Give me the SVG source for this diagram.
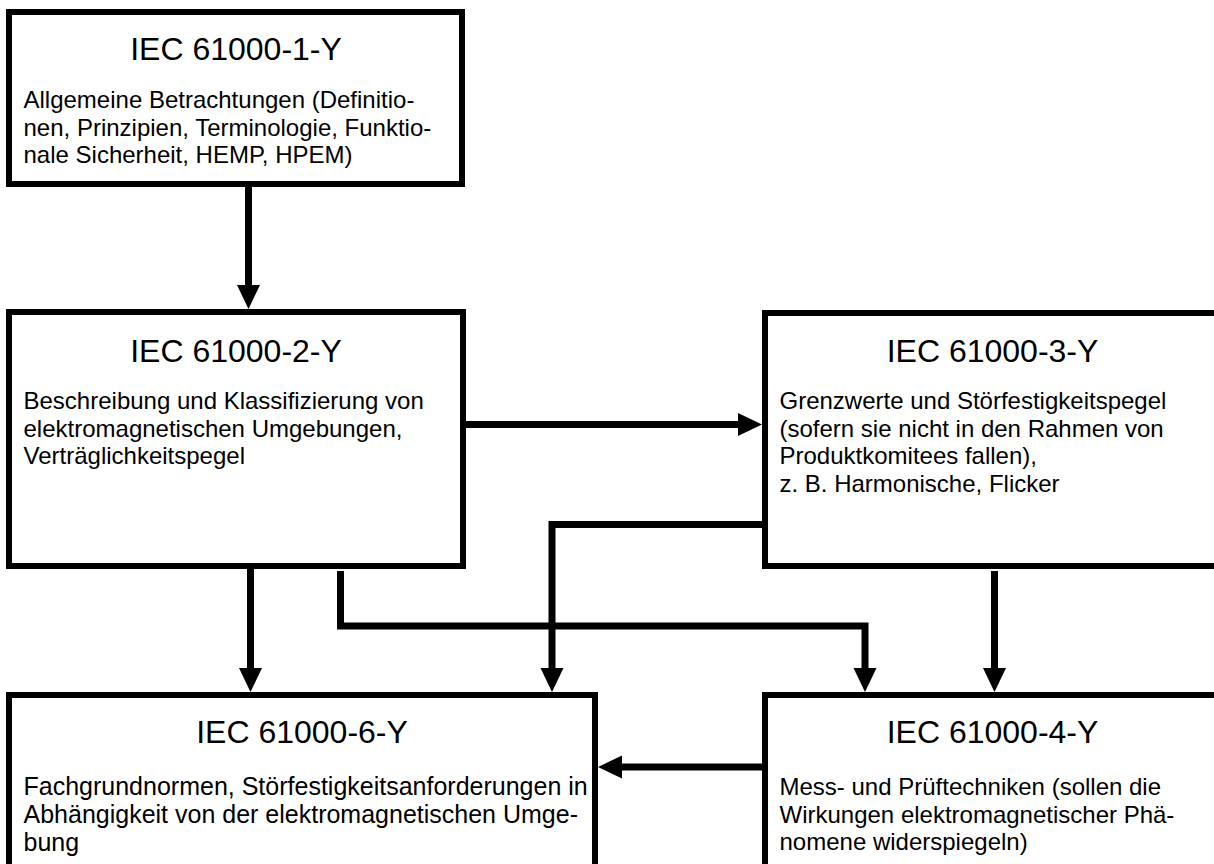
<svg xmlns="http://www.w3.org/2000/svg" width="1214" height="864" viewBox="0 0 1214 864">
  <style>
    .box { fill: #ffffff; stroke: #000000; stroke-width: 6; }
    .title { font-family: "Liberation Sans", Arial, sans-serif; font-size: 32px; fill: #000000; text-anchor: middle; }
    .body { font-family: "Liberation Sans", Arial, sans-serif; font-size: 24px; fill: #000000; }
    .wide { font-size: 25px; }
    .conn { fill: none; stroke: #000000; stroke-width: 7; stroke-linejoin: miter; stroke-linecap: butt; }
  </style>
  <defs>
    <marker id="head" markerUnits="userSpaceOnUse" markerWidth="24" markerHeight="24" refX="4" refY="11.5" orient="auto">
      <path d="M0,0 L24,11.5 L0,23 Z" fill="#000000"/>
    </marker>
  </defs>

  <rect width="1214" height="864" fill="#ffffff"/>

  <!-- connectors -->
  <g id="connectors">
    <path class="conn" d="M248.5,187 V289" marker-end="url(#head)"/>
    <path class="conn" d="M466,424.5 H742" marker-end="url(#head)"/>
    <path class="conn" d="M250.5,569 V672" marker-end="url(#head)"/>
    <path class="conn" d="M340.5,571 V626 H865 V672" marker-end="url(#head)"/>
    <path class="conn" d="M763,524.5 H552 V672" marker-end="url(#head)"/>
    <path class="conn" d="M994.5,571 V672" marker-end="url(#head)"/>
    <path class="conn" d="M763,767 H618" marker-end="url(#head)"/>
  </g>

  <!-- IEC 61000-1 -->
  <g id="node-1">
    <rect class="box" x="9" y="12" width="453" height="172"/>
    <text class="title" x="236" y="60">IEC 61000-1-Y</text>
    <text class="body" x="23.5" y="108">Allgemeine Betrachtungen (Definitio-</text>
    <text class="body" x="23.5" y="135.6">nen, Prinzipien, Terminologie, Funktio-</text>
    <text class="body" x="23.5" y="163.2">nale Sicherheit, HEMP, HPEM)</text>
  </g>

  <!-- IEC 61000-2 -->
  <g id="node-2">
    <rect class="box" x="9" y="312" width="454" height="254"/>
    <text class="title" x="236" y="361.5">IEC 61000-2-Y</text>
    <text class="body" x="23.5" y="409">Beschreibung und Klassifizierung von</text>
    <text class="body" x="23.5" y="436.6">elektromagnetischen Umgebungen,</text>
    <text class="body" x="23.5" y="464.2">Verträglichkeitspegel</text>
  </g>

  <!-- IEC 61000-3 -->
  <g id="node-3">
    <rect class="box" x="765" y="313" width="455" height="253"/>
    <text class="title" x="992.5" y="361.5">IEC 61000-3-Y</text>
    <text class="body" x="779.5" y="409">Grenzwerte und Störfestigkeitspegel</text>
    <text class="body" x="779.5" y="436.6">(sofern sie nicht in den Rahmen von</text>
    <text class="body" x="779.5" y="464.2">Produktkomitees fallen),</text>
    <text class="body" x="779.5" y="491.8">z. B. Harmonische, Flicker</text>
  </g>

  <!-- IEC 61000-6 -->
  <g id="node-6">
    <rect class="box" x="9" y="695" width="586" height="200"/>
    <text class="title" x="302" y="743">IEC 61000-6-Y</text>
    <text class="body wide" x="23.5" y="795">Fachgrundnormen, Störfestigkeitsanforderungen in</text>
    <text class="body wide" x="23.5" y="823">Abhängigkeit von der elektromagnetischen Umge-</text>
    <text class="body wide" x="23.5" y="851">bung</text>
  </g>

  <!-- IEC 61000-4 -->
  <g id="node-4">
    <rect class="box" x="765" y="695" width="455" height="200"/>
    <text class="title" x="992.5" y="743">IEC 61000-4-Y</text>
    <text class="body" x="779.5" y="795">Mess- und Prüftechniken (sollen die</text>
    <text class="body" x="779.5" y="822.6">Wirkungen elektromagnetischer Phä-</text>
    <text class="body" x="779.5" y="850.2">nomene widerspiegeln)</text>
  </g>
</svg>
